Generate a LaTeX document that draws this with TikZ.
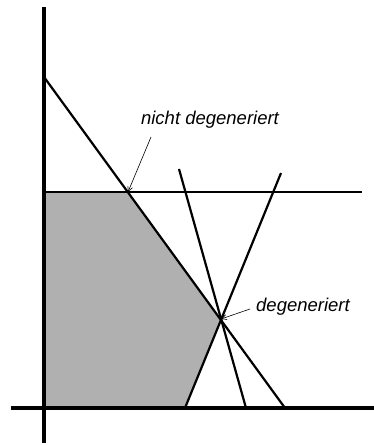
\documentclass[tikz,border=0pt]{standalone}
\usepackage{fontspec}
\setmainfont{Liberation Sans}
\usetikzlibrary{arrows.meta}

\begin{document}
\begin{tikzpicture}[x=1pt,y=1pt,
  axis/.style={line width=3.3pt},
  bound/.style={line width=2.2pt},
  lbl/.style={inner sep=0pt, font=\fontsize{18.5}{20}\selectfont\itshape},
  pointer/.style={line width=0.6pt, -{Straight Barb[length=5pt,width=5pt]}}]
\useasboundingbox (0,0) rectangle (374,445);

\coordinate (A) at (128,253);
\coordinate (D) at (221,126);
\coordinate (O) at (44,37);
\coordinate (Y) at (44,253);
\coordinate (S) at (185,37);

% feasible region
\fill[gray!62] (Y) -- (A) -- (D) -- (S) -- (O) -- cycle;

% constraints
\coordinate (h1) at (362,253);
\coordinate (d0) at (44,368);
\coordinate (d1) at (285,37);
\coordinate (p0) at (179,276);
\coordinate (p1) at (246,37);
\coordinate (q1) at (281,272);
\draw[bound] (Y) -- (h1);
\draw[bound] (d0) -- (d1);
\draw[bound] (p0) -- (p1);
\draw[bound] (S) -- (q1);

% axes
\coordinate (xl) at (11,37);
\coordinate (xr) at (374,37);
\coordinate (yb) at (44,2);
\coordinate (yt) at (44,438);
\draw[axis] (xl) -- (xr);
\draw[axis] (yb) -- (yt);

% labels
\node[lbl] (nd) at (210,325) {nicht degeneriert};
\node[lbl] (dg) at (303,138) {degeneriert};
\coordinate (ndtail) at (151,308);
\coordinate (dgtail) at (250,136);
\draw[pointer] (ndtail) -- (A);
\draw[pointer] (dgtail) -- (D);
\end{tikzpicture}
\end{document}
